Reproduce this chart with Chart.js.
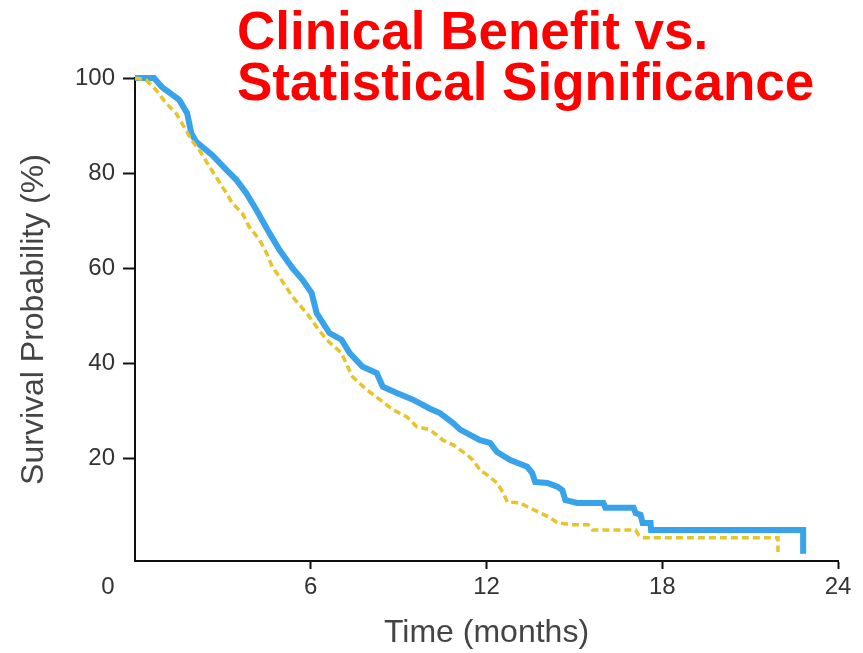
<!DOCTYPE html>
<html><head><meta charset="utf-8">
<script src="https://cdn.jsdelivr.net/npm/chart.js@4"></script>
<style>html,body{margin:0;padding:0;background:#fff;}</style>
</head><body>
<canvas id="c" width="863" height="653"></canvas>
<script>
const titleLines = ['Clinical Benefit vs.', 'Statistical Significance'];
const xAxisLabel = 'Time (months)';
const yAxisLabel = 'Survival Probability (%)';
const xTicks = [0, 6, 12, 18, 24];
const yTicks = [20, 40, 60, 80, 100];

// Blue (solid) arm
const blueMonths = [0, 0.65, 0.92, 1.51, 1.78, 1.92, 2.09, 2.64, 3.12, 3.46, 3.80, 4.14, 4.59, 4.93, 5.38, 5.72, 6.03, 6.20, 6.64, 7.05, 7.33, 7.77, 8.25, 8.46, 8.94, 9.49, 10.07, 10.41, 10.86, 11.10, 11.78, 12.12, 12.36, 12.81, 13.39, 13.56, 13.66, 14.08, 14.42, 14.59, 14.69, 15.10, 15.99, 16.06, 17.02, 17.09, 17.26, 17.33, 17.60, 17.62, 22.81, 22.81];
const blueSurvival = [100, 100, 98.1, 95.4, 92.6, 88.4, 86.6, 83.8, 80.7, 78.6, 75.8, 72.3, 67.4, 63.9, 60.0, 57.6, 54.8, 50.6, 46.4, 45.0, 42.2, 39.3, 38.0, 35.1, 33.8, 32.4, 30.5, 29.6, 27.5, 26.1, 23.9, 23.3, 21.4, 19.7, 18.3, 17.0, 15.1, 14.9, 14.1, 13.4, 11.3, 10.7, 10.7, 9.7, 9.7, 8.6, 8.2, 6.5, 6.5, 5.0, 5.0, 0];

// Yellow (dashed) arm
const yellowMonths = [0, 0.38, 0.72, 1.06, 1.40, 1.68, 1.92, 2.19, 2.47, 2.77, 3.12, 3.32, 3.66, 3.90, 4.25, 4.49, 4.69, 4.93, 5.38, 5.86, 6.20, 6.54, 7.05, 7.26, 7.43, 7.91, 8.36, 8.80, 9.28, 9.62, 10.07, 10.51, 10.86, 11.34, 11.54, 11.78, 12.02, 12.36, 12.57, 12.71, 13.15, 13.39, 13.84, 14.18, 14.42, 14.97, 15.48, 15.62, 17.09, 17.19, 17.33, 21.95, 21.95];
const yellowSurvival = [100, 99.6, 97.5, 94.7, 92.6, 89.7, 87.0, 84.9, 82.1, 79.2, 75.8, 73.7, 71.6, 68.7, 66.0, 63.2, 60.3, 58.2, 54.0, 50.6, 47.7, 45.0, 42.2, 39.3, 37.2, 34.5, 32.4, 30.3, 28.8, 26.7, 26.1, 23.9, 22.9, 20.8, 19.7, 17.6, 16.6, 14.9, 12.8, 10.9, 10.7, 9.9, 8.6, 7.6, 6.5, 6.1, 6.1, 5.0, 5.0, 4.0, 3.4, 3.4, 0.4];

const FONT = '"Liberation Sans", Arial, Helvetica, sans-serif';
Chart.defaults.font.family = FONT;

const toPts = (xs, ys) => xs.map((x, i) => ({x: x, y: ys[i]}));

const overlay = {
  id: 'overlay',
  afterDraw(chart) {
    const ctx = chart.ctx;
    const xs = chart.scales.x;
    ctx.save();
    // origin "0" label, offset left of the axis corner
    const items = xs.getLabelItems();
    if (items.length) {
      const it = items[0];
      const ty = it.options.translation[1] + it.textOffset;
      ctx.font = '24px ' + FONT;
      ctx.fillStyle = '#333';
      ctx.textAlign = 'center';
      ctx.textBaseline = it.options.textBaseline;
      ctx.fillText(String(xTicks[0]), xs.getPixelForValue(xTicks[0]) - 27, ty);
    }
    // red title
    ctx.font = 'bold 53px ' + FONT;
    ctx.fillStyle = '#ff0000';
    ctx.textAlign = 'left';
    ctx.textBaseline = 'alphabetic';
    ctx.fillText(titleLines[0], 237, 49);
    ctx.fillText(titleLines[1], 237, 100);
    ctx.restore();
  }
};

new Chart(document.getElementById('c'), {
  type: 'line',
  data: {
    datasets: [
      {
        label: 'Yellow',
        data: toPts(yellowMonths, yellowSurvival),
        borderColor: '#e6c42c',
        borderWidth: 3.5,
        borderDash: [7, 4],
        pointRadius: 0,
        tension: 0,
        fill: false,
        clip: false,
        borderJoinStyle: 'miter'
      },
      {
        label: 'Blue',
        data: toPts(blueMonths, blueSurvival),
        borderColor: '#38a2ea',
        borderWidth: 6,
        pointRadius: 0,
        tension: 0,
        fill: false,
        clip: false,
        borderJoinStyle: 'miter'
      }
    ]
  },
  options: {
    responsive: false,
    animation: false,
    events: [],
    layout: {padding: {left: 0, right: 25, top: 78, bottom: 0}},
    plugins: {legend: {display: false}, tooltip: {enabled: false}, title: {display: false}},
    scales: {
      x: {
        type: 'linear', min: 0, max: 24,
        afterBuildTicks: s => { s.ticks = xTicks.filter(v => v !== 0).map(v => ({value: v})); },
        afterFit: s => { s.height = 92; },
        border: {display: true, color: '#111', width: 2},
        grid: {display: true, drawOnChartArea: false, drawTicks: true, tickLength: 8, tickColor: '#111', tickWidth: 2},
        ticks: {color: '#333', font: {size: 24}, padding: 4, maxRotation: 0, autoSkip: false},
        title: {display: true, text: xAxisLabel, color: '#444', font: {size: 32}, padding: {top: 0, bottom: 1}}
      },
      y: {
        type: 'linear', min: -1.5, max: 100,
        afterBuildTicks: s => { s.ticks = yTicks.map(v => ({value: v})); },
        afterFit: s => { s.width = 135; },
        border: {display: true, color: '#111', width: 2},
        grid: {display: true, drawOnChartArea: false, drawTicks: true, tickLength: 12, tickColor: '#111', tickWidth: 2},
        ticks: {color: '#333', font: {size: 24}, padding: 8, autoSkip: false},
        title: {display: true, text: yAxisLabel, color: '#444', font: {size: 32}, padding: {top: 15, bottom: 0}}
      }
    }
  },
  plugins: [overlay]
});
</script>
</body></html>
